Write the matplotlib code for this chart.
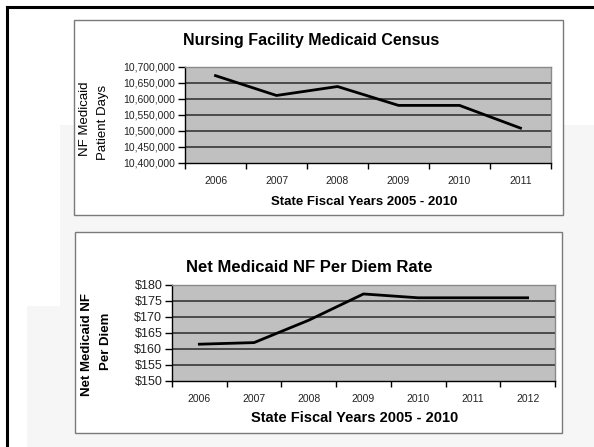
import matplotlib.pyplot as plt
from matplotlib.patches import Rectangle
from matplotlib.lines import Line2D
from matplotlib.ticker import FuncFormatter

# ---- data ----
census_years = ['2006', '2007', '2008', '2009', '2010', '2011']
census_days = [10673000, 10611000, 10639000, 10580000, 10580000, 10509000]

rate_years = ['2006', '2007', '2008', '2009', '2010', '2011', '2012']
rate_values = [161.5, 162.0, 169.0, 177.2, 176.0, 176.0, 176.0]

W, H = 594, 447
plt.rcParams['font.family'] = ['Liberation Sans', 'DejaVu Sans']

fig = plt.figure(figsize=(W / 100, H / 100), dpi=100)
fig.patch.set_facecolor('white')


def box(x0, y0, x1, y1):
    # pixel box (top-left origin) -> figure fraction rect
    return [x0 / W, 1 - y1 / H, (x1 - x0) / W, (y1 - y0) / H]


def fx(x):
    return x / W


def fy(y):
    return 1 - y / H


# faint slide background
for x0, y0, x1, y1 in [(60, 125, 594, 447), (27, 306, 60, 447)]:
    fig.patches.append(Rectangle((fx(x0), fy(y1)), (x1 - x0) / W, (y1 - y0) / H,
                                 transform=fig.transFigure, facecolor='#f6f6f6',
                                 edgecolor='none', zorder=0))

# outer frame (left + top)
fig.lines.append(Line2D([fx(7), fx(7)], [fy(7), 0], transform=fig.transFigure, color='black', lw=2.2))
fig.lines.append(Line2D([fx(7), 1], [fy(7), fy(7)], transform=fig.transFigure, color='black', lw=2.2))

# white chart panels
for x0, y0, x1, y1 in [(74, 20, 563, 215), (75, 232, 562, 433)]:
    fig.patches.append(Rectangle((fx(x0), fy(y1)), (x1 - x0) / W, (y1 - y0) / H,
                                 transform=fig.transFigure, facecolor='white',
                                 edgecolor='#7a7a7a', lw=1.0, zorder=1))


def style_axes(ax, cats, ymin, ymax, step, fmt, ysize, xsize):
    n = len(cats)
    ax.set_zorder(5)
    ax.set_facecolor('#c0c0c0')
    ax.set_xlim(-0.5, n - 0.5)
    ax.set_ylim(ymin, ymax)
    levels = [ymin + i * step for i in range(int(round((ymax - ymin) / step)) + 1)]
    for v in levels[1:-1]:
        ax.axhline(v, color='#2a2a2a', lw=1.1, zorder=1)
    ax.set_yticks(levels)
    ax.yaxis.set_major_formatter(FuncFormatter(fmt))
    ax.set_xticks(range(n))
    ax.set_xticklabels(cats)
    ax.set_xticks([i - 0.5 for i in range(n + 1)], minor=True)
    ax.tick_params(axis='x', which='major', length=0, pad=9, labelsize=xsize, labelcolor='#222222')
    ax.tick_params(axis='x', which='minor', length=4, width=1, direction='out', color='black')
    ax.tick_params(axis='y', length=5, width=1, direction='out', labelsize=ysize,
                   labelcolor='#222222', pad=2)
    for s in ['left', 'bottom']:
        ax.spines[s].set_color('black')
        ax.spines[s].set_linewidth(1.0)
    for s in ['top', 'right']:
        ax.spines[s].set_color('#8a8a8a')
        ax.spines[s].set_linewidth(1.0)


# ---- top chart ----
ax1 = fig.add_axes(box(185, 67, 551, 163))
style_axes(ax1, census_years, 10400000, 10700000, 50000,
           lambda v, p: f'{int(v):,}', 7.5, 7.5)
ax1.plot(range(len(census_days)), census_days, color='black', lw=2.0, zorder=3)

fig.text(fx(311), fy(41), 'Nursing Facility Medicaid Census', ha='center', va='center',
         fontsize=11.5, fontweight='bold')
fig.text(fx(364), fy(202), 'State Fiscal Years 2005 - 2010', ha='center', va='center',
         fontsize=9.5, fontweight='bold')
fig.text(fx(85), fy(119), 'NF Medicaid', rotation=90, ha='center', va='center', fontsize=9.5)
fig.text(fx(103), fy(122), 'Patient Days', rotation=90, ha='center', va='center', fontsize=9.5)

# ---- bottom chart ----
ax2 = fig.add_axes(box(172, 285, 555, 381))
style_axes(ax2, rate_years, 150, 180, 5, lambda v, p: f'${int(v)}', 9, 7.5)
ax2.plot(range(len(rate_values)), rate_values, color='black', lw=2.0, zorder=3)

fig.text(fx(309), fy(267), 'Net Medicaid NF Per Diem Rate', ha='center', va='center',
         fontsize=12, fontweight='bold')
fig.text(fx(355), fy(418), 'State Fiscal Years 2005 - 2010', ha='center', va='center',
         fontsize=10.5, fontweight='bold')
fig.text(fx(87), fy(344), 'Net Medicaid NF', rotation=90, ha='center', va='center',
         fontsize=9.5, fontweight='bold')
fig.text(fx(106), fy(341), 'Per Diem', rotation=90, ha='center', va='center',
         fontsize=9.5, fontweight='bold')

fig.savefig('out.png', dpi=100)
